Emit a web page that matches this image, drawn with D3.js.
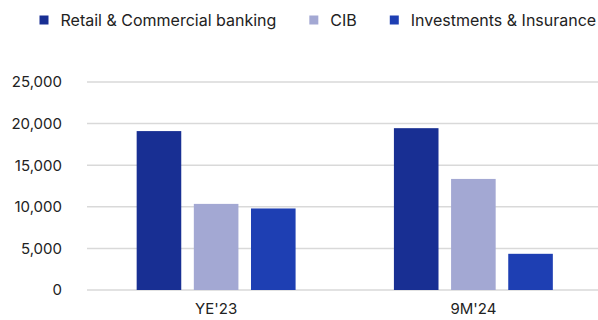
<!DOCTYPE html>
<html>
<head>
<meta charset="utf-8">
<script src="https://cdn.jsdelivr.net/npm/d3@7"></script>
<style>
  html, body { margin: 0; padding: 0; background: #fff; }
  svg { display: block; font-family: Inter, "Noto Sans", sans-serif; }
</style>
</head>
<body>
<svg id="chart" width="598" height="320"></svg>
<script>
// Periods on the x axis
const periods = ["YE'23", "9M'24"];
// Business lines (legend order)
const segments = ["Retail & Commercial banking", "CIB", "Investments & Insurance"];
// Values per business line, one entry per period
const retailValues = [19100, 19450];
const cibValues = [10350, 13350];
const investValues = [9800, 4350];
// Y axis ticks
const yTicks = [0, 5000, 10000, 15000, 20000, 25000];
const segmentColors = ["#182f93", "#a3a8d3", "#1e3fb3"];

const seriesValues = [retailValues, cibValues, investValues];
const rows = periods.map((p, i) => ({
  period: p,
  values: segments.map((s, j) => ({ segment: s, value: seriesValues[j][i] }))
}));

const svg = d3.select("#chart");
const textColor = "#222";

const y = d3.scaleLinear().domain([0, 25000]).range([290, 82]);
const x0 = d3.scaleBand().domain(periods).range([87.5, 602]).padding(0);
const x1 = d3.scaleBand().domain(segments).range([0, x0.bandwidth()])
  .paddingInner(0.22).paddingOuter(0.86);
const color = d3.scaleOrdinal().domain(segments).range(segmentColors);

// Horizontal gridlines
svg.append("g").selectAll("line").data(yTicks).join("line")
  .attr("x1", 87).attr("x2", 598)
  .attr("y1", d => y(d)).attr("y2", d => y(d))
  .attr("stroke", "#d9d9d9").attr("stroke-width", 1.5);

// Y axis labels
const yAxis = d3.axisLeft(y).tickValues(yTicks).tickSize(0).tickPadding(0)
  .tickFormat(d3.format(","));
svg.append("g").attr("transform", "translate(62,0)").call(yAxis)
  .call(g => g.select(".domain").remove())
  .call(g => g.selectAll("text")
    .attr("font-family", "Inter, sans-serif").attr("font-size", 15)
    .attr("fill", textColor));

// Bars
svg.append("g").selectAll("g").data(rows).join("g")
  .attr("transform", d => `translate(${x0(d.period)},0)`)
  .selectAll("rect").data(d => d.values).join("rect")
  .attr("x", d => x1(d.segment))
  .attr("width", x1.bandwidth())
  .attr("y", d => y(d.value))
  .attr("height", d => y(0) - y(d.value))
  .attr("fill", d => color(d.segment));

// X axis labels
const xAxis = d3.axisBottom(x0).tickSize(0).tickPadding(0);
svg.append("g").attr("transform", "translate(0,303)").call(xAxis)
  .call(g => g.select(".domain").remove())
  .call(g => g.selectAll("text")
    .attr("font-family", "Inter, sans-serif").attr("font-size", 15)
    .attr("fill", textColor).attr("dy", "0.71em"));

// Legend
const legend = svg.append("g");
let lx = 39.5;
segments.forEach(s => {
  const item = legend.append("g");
  item.append("rect").attr("x", lx).attr("y", 15.5).attr("width", 9).attr("height", 9)
    .attr("fill", color(s));
  const t = item.append("text").attr("x", lx + 21).attr("y", 25.5)
    .attr("font-size", 16).attr("fill", textColor).text(s);
  lx += 21 + t.node().getComputedTextLength() + 33;
});
</script>
</body>
</html>
